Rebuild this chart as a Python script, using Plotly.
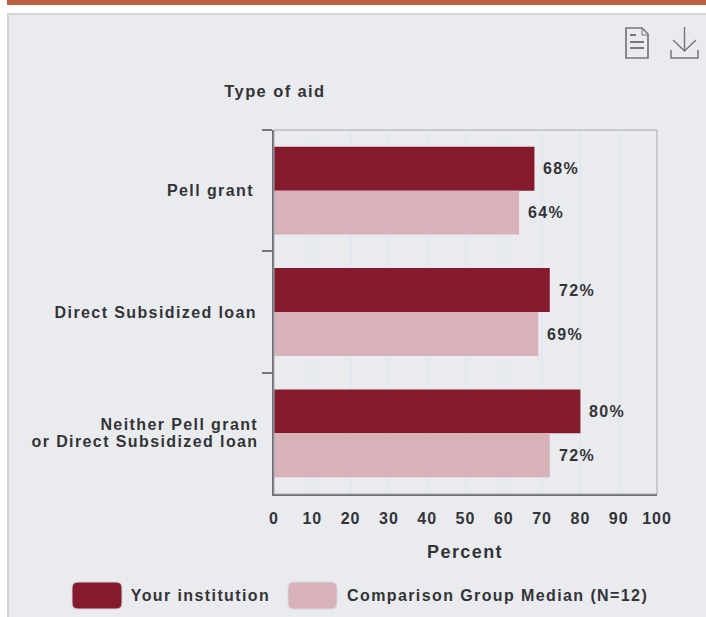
import plotly.graph_objects as go

W, H = 706, 617
categories = ["Pell grant", "Direct Subsidized loan", "Neither Pell grant|or Direct Subsidized loan"]
your_institution = [68, 72, 80]
comparison_median = [64, 69, 72]
series_names = ["Your institution", "Comparison Group Median (N=12)"]
x_ticks = list(range(0, 101, 10))

DARK, LIGHT = "#841a2c", "#d8b2b9"
INK = "#333438"
FONT = "Liberation Sans"

def px(x): return x / W
def py(y): return 1 - y / H

def rrect(x0, y0, x1, y1, r=6):
    return (f"M{px(x0+r)},{py(y0)} L{px(x1-r)},{py(y0)} Q{px(x1)},{py(y0)} {px(x1)},{py(y0+r)} "
            f"L{px(x1)},{py(y1-r)} Q{px(x1)},{py(y1)} {px(x1-r)},{py(y1)} L{px(x0+r)},{py(y1)} "
            f"Q{px(x0)},{py(y1)} {px(x0)},{py(y1-r)} L{px(x0)},{py(y0+r)} Q{px(x0)},{py(y0)} {px(x0+r)},{py(y0)} Z")

def poly(points, close=False):
    s = "M" + " L".join(f"{px(a)},{py(b)}" for a, b in points)
    return s + (" Z" if close else "")

fig = go.Figure()
fig.add_bar(y=categories, x=your_institution, name=series_names[0], orientation="h",
            marker=dict(color=DARK, line=dict(width=0)), showlegend=False)
fig.add_bar(y=categories, x=comparison_median, name=series_names[1], orientation="h",
            marker=dict(color=LIGHT, line=dict(width=0)), showlegend=False)

ann = []
def text(x, y, s, size=16, anchor="left", xref="paper", yref="paper", xshift=0, yshift=0):
    ann.append(dict(x=x, y=y, text=s, xref=xref, yref=yref, xanchor=anchor, yanchor="middle",
                    showarrow=False, xshift=xshift, yshift=yshift,
                    font=dict(family=FONT, size=size, color=INK, weight="bold")))

# category labels
text(0, categories[0], categories[0], anchor="right", xref="x", yref="y", xshift=-24)
text(0, categories[1], categories[1], anchor="right", xref="x", yref="y", xshift=-30)
for (i, line), dx in zip(enumerate(categories[2].split("|")), (-26, -31)):
    text(0, categories[2], line, anchor="right", xref="x", yref="y", xshift=dx, yshift=8.5 - 17 * i)

# value labels: two bars of a group sit 22 px either side of the band centre
for c, a, b in zip(categories, your_institution, comparison_median):
    text(a, c, f"{a}%", xref="x", yref="y", xshift=9, yshift=22)
    text(b, c, f"{b}%", xref="x", yref="y", xshift=9, yshift=-22)

text(px(230), py(91), "Type of aid", size=16.5)
text(px(465.5), py(552), "Percent", size=18, anchor="center")
text(px(140), py(595), series_names[0])
text(px(366), py(595), series_names[1])

grey = "#77787c"
shapes = [
    dict(type="rect", xref="paper", yref="paper", x0=px(7), x1=1.01, y0=py(0), y1=py(5),
         fillcolor="#bd5f3e", line_width=0, layer="below"),
    dict(type="rect", xref="paper", yref="paper", x0=px(8), x1=1.02, y0=py(14), y1=-0.02,
         fillcolor="#eaebef", line=dict(color="#d2d3d5", width=2), layer="below"),
    dict(type="rect", xref="paper", yref="paper", x0=px(274), x1=px(657), y0=py(494), y1=py(130),
         line=dict(color="#a6a8ad", width=1), layer="above"),
    dict(type="path", xref="paper", yref="paper", path=rrect(72, 582, 122, 609),
         fillcolor=DARK, line=dict(color="#d5d6da", width=1)),
    dict(type="path", xref="paper", yref="paper", path=rrect(288, 582, 337, 609),
         fillcolor=LIGHT, line=dict(color="#d5d6da", width=1)),
    # document icon
    dict(type="path", xref="paper", yref="paper",
         path=poly([(626, 28), (642, 28), (648, 34), (648, 58), (626, 58)], True),
         line=dict(color=grey, width=1.7)),
    dict(type="path", xref="paper", yref="paper", path=poly([(642, 28), (642, 35), (648, 35)]),
         line=dict(color=grey, width=1)),
]
for y0, x1 in [(35, 636), (42, 644), (48, 644)]:
    shapes.append(dict(type="line", xref="paper", yref="paper", x0=px(630), x1=px(x1), y0=py(y0), y1=py(y0),
                       line=dict(color=grey, width=2)))
# download icon
shapes += [
    dict(type="path", xref="paper", yref="paper", path=poly([(671, 50), (671, 58), (698, 58), (698, 50)]),
         line=dict(color=grey, width=1.5)),
    dict(type="line", xref="paper", yref="paper", x0=px(684.5), x1=px(684.5), y0=py(27), y1=py(51),
         line=dict(color=grey, width=1.5)),
    dict(type="path", xref="paper", yref="paper", path=poly([(673, 40), (684.5, 51), (696, 40)]),
         line=dict(color=grey, width=1.5)),
]

fig.update_layout(
    width=W, height=H, autosize=False, margin=dict(l=0, r=0, t=0, b=0, autoexpand=False),
    paper_bgcolor="white", plot_bgcolor="#f5f5f5",
    barmode="group", bargap=0.276, bargroupgap=0,
    annotations=ann, shapes=shapes, showlegend=False,
    font=dict(family=FONT, size=16, color=INK),
    xaxis=dict(domain=[px(274), px(657)], range=[0, 100], tickmode="array", tickvals=x_ticks,
               ticks="", showgrid=True, gridcolor="#e3e7f1", gridwidth=1.5, zeroline=False,
               showline=True, linecolor="#6e6f74", linewidth=2,
               tickfont=dict(family=FONT, size=16, color=INK, weight="bold"),
               ticklabelstandoff=9),
    yaxis=dict(domain=[py(494), py(130)], autorange="reversed", type="category",
               showticklabels=False, ticks="outside", tickson="boundaries", ticklen=10, tickwidth=2,
               tickcolor="#77787c", showgrid=False, zeroline=False,
               showline=True, linecolor="#6e6f74", linewidth=2),
)
post = """
document.body.style.margin='0';
document.body.style.overflow='hidden';
var st=document.createElement('style');
st.textContent='.annotation-text{letter-spacing:1.4px} .xtick text{letter-spacing:1px}';
document.head.appendChild(st);
Plotly.redraw(document.getElementById('{plot_id}'));
"""
fig.write_html("out.html", config={"displayModeBar": False}, post_script=post)
